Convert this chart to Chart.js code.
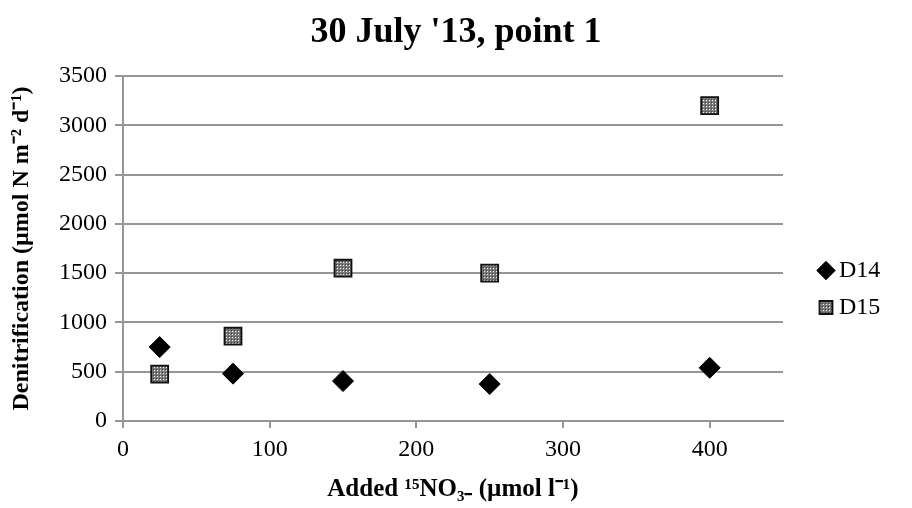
<!DOCTYPE html>
<html>
<head>
<meta charset="utf-8">
<script src="https://cdn.jsdelivr.net/npm/chart.js@4.4.1/dist/chart.umd.min.js"></script>
<style>
html,body{margin:0;padding:0;background:#ffffff;}
canvas{display:block;}
</style>
</head>
<body>
<canvas id="c" width="912" height="508"></canvas>
<script>
// ---- data ----
const chartTitle = "30 July '13, point 1";
const xAxisTitle = "Added \u00B9\u2075NO\u2083\u208B (\u00B5mol l\u207B\u00B9)";
const yAxisTitle = "Denitrification (\u00B5mol N m\u207B\u00B2 d\u207B\u00B9)";
const seriesNames = ["D14", "D15"];
const addedNO3 = [25, 75, 150, 250, 400];
const d14Values = [750, 480, 405, 375, 540];
const d15Values = [475, 860, 1550, 1500, 3200];
const xTickValues = [0, 100, 200, 300, 400];
const yTickValues = [0, 500, 1000, 1500, 2000, 2500, 3000, 3500];

// ---- styling ----
const SERIF = "'Liberation Serif', 'Times New Roman', Times, serif";
const GRID = '#969696';
const canvas = document.getElementById('c');
const ctx = canvas.getContext('2d');

function makeDotPattern() {
  const t = document.createElement('canvas');
  t.width = 3; t.height = 3;
  const g = t.getContext('2d');
  g.fillStyle = '#7a7a7a'; g.fillRect(0, 0, 3, 3);
  g.fillStyle = '#f4f4f4'; g.fillRect(1, 1, 1, 1);
  g.fillStyle = '#3c3c3c'; g.fillRect(0, 0, 1, 1);
  return ctx.createPattern(t, 'repeat');
}
const dotPattern = makeDotPattern();

const toPoints = (xs, ys) => xs.map((x, i) => ({x: x, y: ys[i]}));

const legendPlacer = {
  id: 'legendPlacer',
  beforeLayout(chart) {
    const lg = chart.legend;
    if (lg && !lg._patched) {
      const origFit = lg.fit.bind(lg);
      lg.fit = function () { origFit(); this.width = 129; };
      lg._patched = true;
    }
  },
  afterLayout(chart) {
    const lg = chart.legend;
    if (!lg) return;
    const dx = 825 - (lg.left + lg.options.labels.padding);
    lg.left += dx; lg.right += dx;
    lg.top += 35; lg.bottom += 35;
  }
};

Chart.defaults.font.family = SERIF;
Chart.defaults.color = '#000000';

new Chart(ctx, {
  type: 'scatter',
  data: {
    datasets: [
      {
        label: seriesNames[0],
        data: toPoints(addedNO3, d14Values),
        pointStyle: 'rectRot',
        radius: 10.5,
        hoverRadius: 10.5,
        backgroundColor: '#000000',
        borderColor: '#000000',
        borderWidth: 1
      },
      {
        label: seriesNames[1],
        data: toPoints(addedNO3, d15Values),
        pointStyle: 'rect',
        radius: 12,
        hoverRadius: 12,
        backgroundColor: dotPattern,
        borderColor: '#111111',
        borderWidth: 1.8
      }
    ]
  },
  plugins: [legendPlacer],
  options: {
    responsive: false,
    animation: false,
    devicePixelRatio: 1,
    layout: {padding: 0},
    plugins: {
      title: {
        display: true,
        text: chartTitle,
        color: '#000000',
        font: {family: SERIF, size: 36, weight: 'bold'},
        padding: {top: 11, bottom: 21.8}
      },
      legend: {
        display: true,
        position: 'right',
        align: 'center',
        labels: {
          usePointStyle: true,
          boxWidth: 2,
          boxHeight: 13,
          padding: 13,
          color: '#000000',
          font: {family: SERIF, size: 24}
        }
      },
      tooltip: {enabled: false}
    },
    scales: {
      x: {
        type: 'linear',
        position: 'bottom',
        min: 0,
        max: 450,
        afterBuildTicks: s => { s.ticks = xTickValues.map(v => ({value: v})); },
        afterFit: s => { s.height = 87; },
        ticks: {
          color: '#000000',
          font: {family: SERIF, size: 24},
          padding: 7,
          callback: v => String(v)
        },
        grid: {
          display: true,
          drawOnChartArea: false,
          drawTicks: true,
          tickLength: 7,
          color: GRID,
          lineWidth: 2
        },
        border: {display: true, color: GRID, width: 2},
        title: {
          display: true,
          text: xAxisTitle,
          color: '#000000',
          font: {family: SERIF, size: 25, weight: 'bold'},
          padding: {top: 0, bottom: 3}
        }
      },
      y: {
        type: 'linear',
        position: 'left',
        min: 0,
        max: 3500,
        afterBuildTicks: s => { s.ticks = yTickValues.map(v => ({value: v})); },
        afterFit: s => { s.width = 123; },
        ticks: {
          color: '#000000',
          font: {family: SERIF, size: 24},
          padding: 8,
          callback: v => String(v)
        },
        grid: {
          display: true,
          drawOnChartArea: true,
          drawTicks: true,
          tickLength: 8,
          color: GRID,
          lineWidth: 2
        },
        border: {display: true, color: GRID, width: 2},
        title: {
          display: true,
          text: yAxisTitle,
          color: '#000000',
          font: {family: SERIF, size: 24, weight: 'bold'},
          padding: {top: 7, bottom: 0}
        }
      }
    }
  }
});
</script>
</body>
</html>
